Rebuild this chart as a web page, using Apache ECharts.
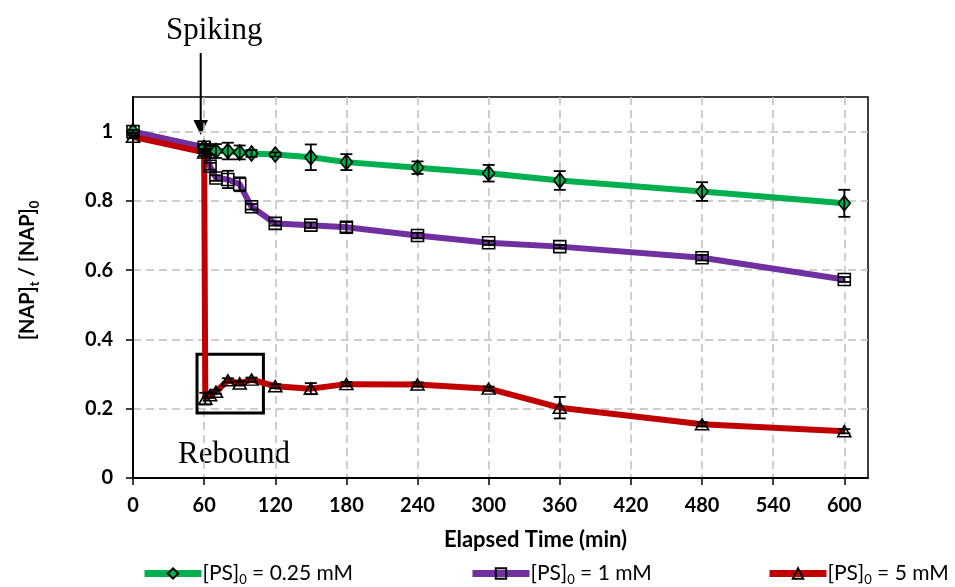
<!DOCTYPE html>
<html>
<head>
<meta charset="utf-8">
<script src="https://cdn.jsdelivr.net/npm/echarts@6/dist/echarts.min.js"></script>
<style>
  html, body { margin: 0; padding: 0; background: #fff; }
  #chart { width: 955px; height: 587px; }
</style>
</head>
<body>
<div id="chart"></div>
<script>
// Sampling times (min), normalised concentration and standard deviation per dose
const green_t   = [0, 60, 65, 70, 80, 90, 100, 120, 150, 180, 240, 300, 360, 480, 600];
const green_v   = [1.0, 0.953, 0.946, 0.944, 0.944, 0.940, 0.937, 0.934, 0.926, 0.912, 0.896, 0.880, 0.859, 0.827, 0.793];
const green_err = [0.004, 0.010, 0.012, 0.020, 0.024, 0.020, 0.010, 0.006, 0.037, 0.023, 0.018, 0.024, 0.027, 0.027, 0.039];

const purple_t   = [0, 60, 65, 70, 80, 90, 100, 120, 150, 180, 240, 300, 360, 480, 600];
const purple_v   = [1.0, 0.955, 0.900, 0.866, 0.862, 0.848, 0.783, 0.735, 0.730, 0.724, 0.700, 0.679, 0.668, 0.636, 0.573];
const purple_err = [0.004, 0.010, 0.010, 0.008, 0.025, 0.020, 0.008, 0.006, 0.008, 0.015, 0.008, 0.006, 0.005, 0.008, 0.007];

const red_t   = [0, 60, 61, 65, 70, 80, 90, 100, 120, 150, 180, 240, 300, 360, 480, 600];
const red_v   = [0.985, 0.940, 0.229, 0.239, 0.249, 0.282, 0.273, 0.284, 0.265, 0.258, 0.271, 0.270, 0.258, 0.203, 0.155, 0.135];
const red_err = [0.004, 0.010, 0.017, 0.008, 0.006, 0.006, 0.006, 0.006, 0.006, 0.016, 0.006, 0.006, 0.006, 0.031, 0.006, 0.006];

const doses = ['0.25', '1', '5'];
const xTicks = [0, 60, 120, 180, 240, 300, 360, 420, 480, 540, 600];
const yTicks = [0, 0.2, 0.4, 0.6, 0.8, 1];

// Region highlighted after the spike
const reboundBox = { t0: 54, t1: 110, v0: 0.188, v1: 0.357 };

const pairs = (t, v) => t.map((x, i) => [x, v[i]]);
const triples = (t, v, e) => t.map((x, i) => [x, v[i], e[i]]);

const FONT = 'Lato';
const SERIF = '"Liberation Serif", "DejaVu Serif", serif';

function errorBars(name, data) {
  return {
    type: 'custom',
    name: name + '-err',
    z: 5,
    data: data,
    renderItem: function (params, api) {
      const x = api.value(0), v = api.value(1), e = api.value(2);
      const hi = api.coord([x, v + e]);
      const lo = api.coord([x, v - e]);
      const w = 6;
      const style = { stroke: '#000', lineWidth: 1.8 };
      return {
        type: 'group',
        children: [
          { type: 'line', shape: { x1: hi[0], y1: hi[1], x2: lo[0], y2: lo[1] }, style: style },
          { type: 'line', shape: { x1: hi[0] - w, y1: hi[1], x2: hi[0] + w, y2: hi[1] }, style: style },
          { type: 'line', shape: { x1: lo[0] - w, y1: lo[1], x2: lo[0] + w, y2: lo[1] }, style: style }
        ]
      };
    }
  };
}

function lineSeries(name, data, color, symbol, size, fill) {
  return {
    type: 'line',
    name: name,
    data: data,
    z: 3,
    symbol: symbol,
    symbolSize: size,
    showAllSymbol: true,
    lineStyle: { color: color, width: 6 },
    itemStyle: { color: fill, borderColor: '#000', borderWidth: 1.6 },
    emphasis: { disabled: true },
    animation: false
  };
}

const legendRich = {
  a: { fontFamily: FONT, fontSize: 21, color: '#000', lineHeight: 26 },
  s: { fontFamily: FONT, fontSize: 13, color: '#000', lineHeight: 13, verticalAlign: 'bottom' }
};
const legendFmt = n => '{a|[PS]}{s|0}{a| = ' + n + ' mM}';

function legendAt(name, left) {
  return {
    data: [name],
    left: left,
    top: 563,
    padding: 0,
    itemWidth: 57,
    itemHeight: 13,
    itemGap: 3,
    selectedMode: false,
    lineStyle: { width: 7 },
    formatter: legendFmt,
    textStyle: { rich: legendRich, padding: [0, 0, 0, -4] }
  };
}

const chart = echarts.init(document.getElementById('chart'), null, { renderer: 'canvas' });

const option = {
  animation: false,
  backgroundColor: '#fff',
  grid: {
    left: 133, right: 87, top: 97, bottom: 109,
    show: true, borderColor: '#000', borderWidth: 1.5, backgroundColor: 'transparent'
  },
  legend: [
    legendAt(doses[0], 141),
    legendAt(doses[1], 469),
    legendAt(doses[2], 766)
  ],
  xAxis: {
    type: 'value',
    min: 0, max: 620, interval: 60,
    name: 'Elapsed Time (min)',
    nameLocation: 'middle',
    nameGap: 51,
    nameTextStyle: { fontFamily: FONT, fontWeight: 'bold', fontSize: 22, color: '#000', padding: [0, 0, 0, 70] },
    axisLine: { show: true, onZero: false, lineStyle: { color: '#000', width: 2 } },
    axisTick: { show: true, length: 7, customValues: xTicks, lineStyle: { color: '#000', width: 1.5 } },
    axisLabel: {
      customValues: xTicks,
      margin: 18,
      fontFamily: FONT, fontWeight: 'bold', fontSize: 20, color: '#000',
      formatter: v => (v > 600 ? '' : String(v))
    },
    splitLine: { show: true, lineStyle: { color: '#bfbfbf', width: 1.5, type: [8, 5] } }
  },
  yAxis: {
    type: 'value',
    min: 0, max: 1.1, interval: 0.2,
    name: '{a|[NAP]}{s|t}{a| / [NAP]}{s|0}',
    nameLocation: 'middle',
    nameGap: 92,
    nameRotate: 90,
    nameTextStyle: {
      padding: [0, 0, 0, 34],
      rich: {
        a: { fontFamily: FONT, fontWeight: 'bold', fontSize: 20, color: '#000', lineHeight: 26 },
        s: { fontFamily: FONT, fontWeight: 'bold', fontSize: 13, color: '#000', lineHeight: 13, verticalAlign: 'bottom' }
      }
    },
    axisLine: { show: true, onZero: false, lineStyle: { color: '#000', width: 2 } },
    axisTick: { show: true, length: 7, customValues: yTicks, lineStyle: { color: '#000', width: 1.5 } },
    axisLabel: {
      customValues: yTicks,
      margin: 20,
      fontFamily: FONT, fontWeight: 'bold', fontSize: 20, color: '#000',
      formatter: v => (v > 1.05 ? '' : String(Math.round(v * 10) / 10))
    },
    splitLine: { show: true, lineStyle: { color: '#bfbfbf', width: 1.5, type: [8, 5] } }
  },
  series: [
    lineSeries(doses[0], pairs(green_t, green_v), '#00b050', 'diamond', [12, 15], '#00b050'),
    lineSeries(doses[1], pairs(purple_t, purple_v), '#7030a0', 'rect', 12, 'rgba(0,0,0,0)'),
    Object.assign(
      lineSeries(doses[2], pairs(red_t, red_v), '#c00000', 'triangle', [13, 11], 'rgba(0,0,0,0)'),
      {
        markArea: {
          silent: true,
          itemStyle: { color: 'rgba(0,0,0,0)', borderColor: '#000', borderWidth: 3 },
          data: [[
            { coord: [reboundBox.t0, reboundBox.v1] },
            { coord: [reboundBox.t1, reboundBox.v0] }
          ]]
        }
      }
    ),
    errorBars(doses[0], triples(green_t, green_v, green_err)),
    errorBars(doses[1], triples(purple_t, purple_v, purple_err)),
    errorBars(doses[2], triples(red_t, red_v, red_err))
  ],
  graphic: [
    {
      type: 'text', left: 166, top: 15,
      style: { text: 'Spiking', fontFamily: SERIF, fontSize: 31, fill: '#000' }
    },
    {
      type: 'line', shape: { x1: 200.7, y1: 53, x2: 200.7, y2: 122 },
      style: { stroke: '#000', lineWidth: 2 }
    },
    {
      type: 'polygon', shape: { points: [[193.5, 120], [208, 120], [200.7, 135]] },
      style: { fill: '#000' }
    },
    {
      type: 'text', left: 178, top: 439,
      style: { text: 'Rebound', fontFamily: SERIF, fontSize: 31, fill: '#000' }
    }
  ]
};

chart.setOption(option);
</script>
</body>
</html>
